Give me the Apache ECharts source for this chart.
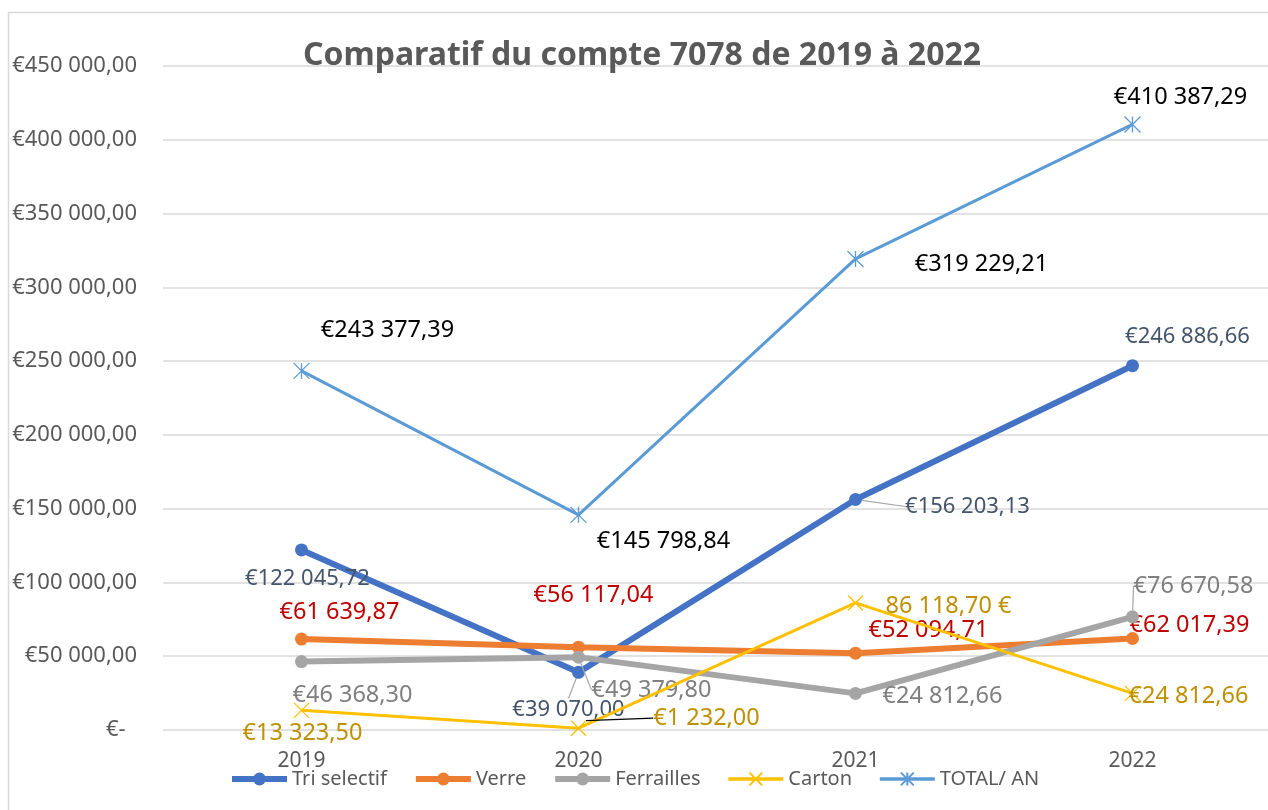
<!DOCTYPE html>
<html>
<head>
<meta charset="utf-8">
<script src="https://cdn.jsdelivr.net/npm/echarts@6/dist/echarts.min.js"></script>
<style>
  html, body { margin: 0; padding: 0; background: #fff; }
  #main { width: 1268px; height: 810px; }
</style>
</head>
<body>
<div id="main"></div>
<script>
// data
const years = ["2019", "2020", "2021", "2022"];
const triSelectif = [122045.72, 39070.00, 156203.13, 246886.66];
const verre = [61639.87, 56117.04, 52094.71, 62017.39];
const ferrailles = [46368.30, 49379.80, 24812.66, 76670.58];
const carton = [13323.50, 1232.00, 86118.70, 24812.66];
const totalAn = [243377.39, 145798.84, 319229.21, 410387.29];

const font = "Noto Sans";

// euro format like excel: €122 045,72
function eur(v) {
  let parts = v.toFixed(2).split(".");
  let ent = parts[0].replace(/\B(?=(\d{3})+(?!\d))/g, " ");
  return "€" + ent + "," + parts[1];
}
function eurAfter(v) {
  let s = eur(v).slice(1);
  return s + " €";
}

// label offsets from the point (px), and which get a leader line
const labelOffsets = [
  [[6, 29], [-10, 37], [112, 7], [55, -29]],
  [[38, -27], [15, -52], [73, -23], [57, -13]],
  [[51, 34], [73, 33], [87, 3], [61, -31]],
  [[1, 23], [128, -10], [93, 3], [56, 3]],
  [[86, -41], [85, 26], [126, 5], [48, -27]]
];
const guides = [
  [false, true, true, false],
  [false, false, false, false],
  [false, true, false, true],
  [false, true, false, false],
  [false, false, false, false]
];

const xMark = "path://M0,0L10,10M10,0L0,10";
const starMark = "path://M5,0L5,10M0,0L10,10M10,0L0,10";

function makeSeries(idx, name, values, color, width, symbol, symSize, labelColor, labelSize, guideColor) {
  return {
    name: name,
    type: "line",
    data: values.map((v, i) => ({
      value: v,
      labelLine: {
        show: guides[idx][i],
        lineStyle: { color: guideColor, width: 1.2 }
      }
    })),
    lineStyle: { color: color, width: width },
    itemStyle: symbol === "circle"
      ? { color: color, borderColor: color, borderWidth: 0 }
      : { color: color, borderColor: color, borderWidth: 1.3 },
    symbol: symbol,
    symbolSize: symSize,
    showSymbol: true,
    z: 2 + idx,
    label: {
      show: true,
      position: "inside",
      align: "center",
      verticalAlign: "middle",
      fontFamily: font,
      fontSize: labelSize,
      color: labelColor,
      formatter: p => (idx === 3 && p.dataIndex === 2) ? eurAfter(p.value) : eur(p.value)
    },
    labelLayout: p => ({
      dx: labelOffsets[idx][p.dataIndex][0],
      dy: labelOffsets[idx][p.dataIndex][1]
    })
  };
}

const chart = echarts.init(document.getElementById("main"));
const option = {
  animation: false,
  backgroundColor: "#fff",
  title: {
    text: "Comparatif du compte 7078 de 2019 à 2022",
    left: 637,
    textAlign: "center",
    top: 35,
    textStyle: { fontFamily: font, fontWeight: "bold", fontSize: 32, color: "#595959" }
  },
  graphic: [{
    type: "rect",
    left: 6,
    top: 10,
    z: -1,
    shape: { width: 1300, height: 850 },
    style: { fill: "none", stroke: "#d9d9d9", lineWidth: 1.5 }
  }],
  grid: { left: 163, right: -3, top: 66, bottom: 80, outerBoundsMode: "none" },
  legend: {
    left: 224,
    top: 764,
    itemWidth: 55,
    itemHeight: 16,
    itemGap: 26,
    textStyle: { fontFamily: font, fontSize: 20, color: "#595959" },
    data: [
      { name: "Tri selectif", lineStyle: { width: 6 } },
      { name: "Verre", lineStyle: { width: 6 } },
      { name: "Ferrailles", lineStyle: { width: 6 } },
      { name: "Carton", lineStyle: { width: 3.5 } },
      { name: "TOTAL/ AN", lineStyle: { width: 3.5 } }
    ]
  },
  xAxis: {
    type: "category",
    data: years,
    boundaryGap: true,
    axisLine: { show: false },
    axisTick: { show: false },
    axisLabel: { fontFamily: font, fontSize: 21, color: "#595959", margin: 21 }
  },
  yAxis: {
    type: "value",
    min: 0,
    max: 450000,
    interval: 50000,
    axisLine: { show: false },
    axisTick: { show: false },
    splitLine: { lineStyle: { color: "#d9d9d9", width: 1.5 } },
    axisLabel: {
      fontFamily: font,
      fontSize: 22,
      color: "#595959",
      margin: 26,
      formatter: v => v === 0 ? "€-  " : eur(v)
    }
  },
  series: [
    makeSeries(0, "Tri selectif", triSelectif, "#4472C4", 6, "circle", 13, "#44546A", 22, "#A5A5A5"),
    makeSeries(1, "Verre", verre, "#ED7D31", 6, "circle", 13, "#C00000", 23.5, "#A5A5A5"),
    makeSeries(2, "Ferrailles", ferrailles, "#A5A5A5", 6, "circle", 13, "#7F7F7F", 23.5, "#A5A5A5"),
    makeSeries(3, "Carton", carton, "#FFC000", 3, xMark, 15, "#BF9000", 23.5, "#000000"),
    makeSeries(4, "TOTAL/ AN", totalAn, "#5B9BD5", 3, starMark, 16, "#000000", 23.5, "#A5A5A5")
  ]
};
chart.setOption(option);
</script>
</body>
</html>
